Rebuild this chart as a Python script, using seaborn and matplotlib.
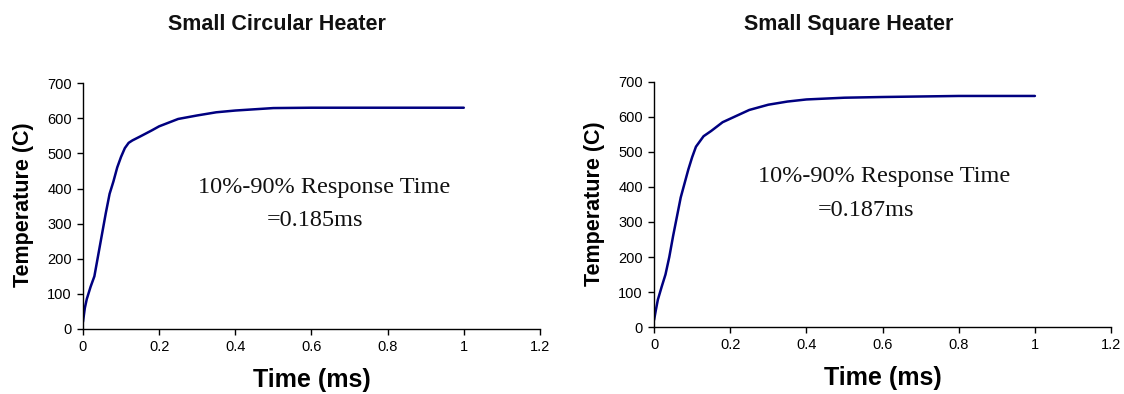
import numpy as np
import pandas as pd
import matplotlib
matplotlib.use("Agg")
import matplotlib.pyplot as plt
import seaborn as sns
from matplotlib.ticker import FuncFormatter

# ---- data ----
time_ms = [0, 0.005, 0.01, 0.02, 0.03, 0.04, 0.05, 0.06, 0.07, 0.08, 0.09, 0.10,
           0.11, 0.12, 0.13, 0.15, 0.18, 0.20, 0.25, 0.30, 0.35, 0.40, 0.50, 0.60, 0.80, 1.0]
circular_temp = [20, 60, 85, 120, 150, 210, 270, 330, 385, 420, 460, 490,
                 515, 530, 537, 548, 565, 577, 598, 608, 617, 622, 629, 630, 630, 630]
square_temp = [20, 50, 78, 115, 150, 200, 260, 315, 370, 410, 450, 485,
               515, 530, 545, 560, 585, 595, 620, 635, 644, 650, 655, 657, 660, 660]
titles = ["Small Circular Heater", "Small Square Heater"]
annot_line1 = "10%-90% Response Time"
annot_line2 = ["=0.185ms", "=0.187ms"]
x_ticks = [0, 0.2, 0.4, 0.6, 0.8, 1.0, 1.2]
y_ticks = [0, 100, 200, 300, 400, 500, 600, 700]

sns.set_theme(style="white")
plt.rcParams['font.family'] = ['Liberation Sans', 'DejaVu Sans']

fig = plt.figure(figsize=(11.24, 3.94), dpi=100)
ax_pos = [[0.0738, 0.165, 0.4066, 0.624], [0.5819, 0.170, 0.4066, 0.622]]
title_pos = [(0.2464, 0.937), (0.755, 0.937)]
ann1 = [(0.633, 402), (0.604, 429)]
ann2 = [(0.609, 310), (0.556, 334)]
series = [circular_temp, square_temp]

for i in range(2):
    ax = fig.add_axes(ax_pos[i])
    df = pd.DataFrame({"t": time_ms, "T": series[i]})
    sns.lineplot(data=df, x="t", y="T", ax=ax, color="#000080", linewidth=1.8)
    ax.set_xlim(0, 1.2)
    ax.set_ylim(0, 700)
    ax.set_xticks(x_ticks)
    ax.set_yticks(y_ticks)
    ax.xaxis.set_major_formatter(FuncFormatter(lambda v, p: f"{v:g}"))
    for s in ["top", "right"]:
        ax.spines[s].set_visible(False)
    for s in ["left", "bottom"]:
        ax.spines[s].set_color("black")
        ax.spines[s].set_linewidth(1.0)
    ax.tick_params(axis="both", which="major", direction="out", length=4, width=1,
                   color="black", labelsize=10.5, labelcolor="black", pad=4,
                   bottom=True, left=True)
    ax.set_xlabel("Time (ms)", fontsize=18, fontweight="bold", color="black")
    ax.xaxis.label.set_verticalalignment("center")
    ax.xaxis.set_label_coords(0.5, -0.207)
    ax.set_ylabel("Temperature (C)", fontsize=15.5, fontweight="bold", color="black")
    ax.yaxis.label.set_verticalalignment("center")
    ax.yaxis.set_label_coords(-0.131, 0.504)
    ax.grid(False)
    ax.text(ann1[i][0], ann1[i][1], annot_line1, ha="center", va="center",
            fontsize=17.5, family=["Liberation Serif"], color="#111111")
    ax.text(ann2[i][0], ann2[i][1], annot_line2[i], ha="center", va="center",
            fontsize=17.5, family=["Liberation Serif"], color="#111111")
    fig.text(title_pos[i][0], title_pos[i][1], titles[i], ha="center", va="center",
             fontsize=15.5, fontweight="bold", color="#111111")

fig.savefig("out.png", dpi=100, facecolor="white")
